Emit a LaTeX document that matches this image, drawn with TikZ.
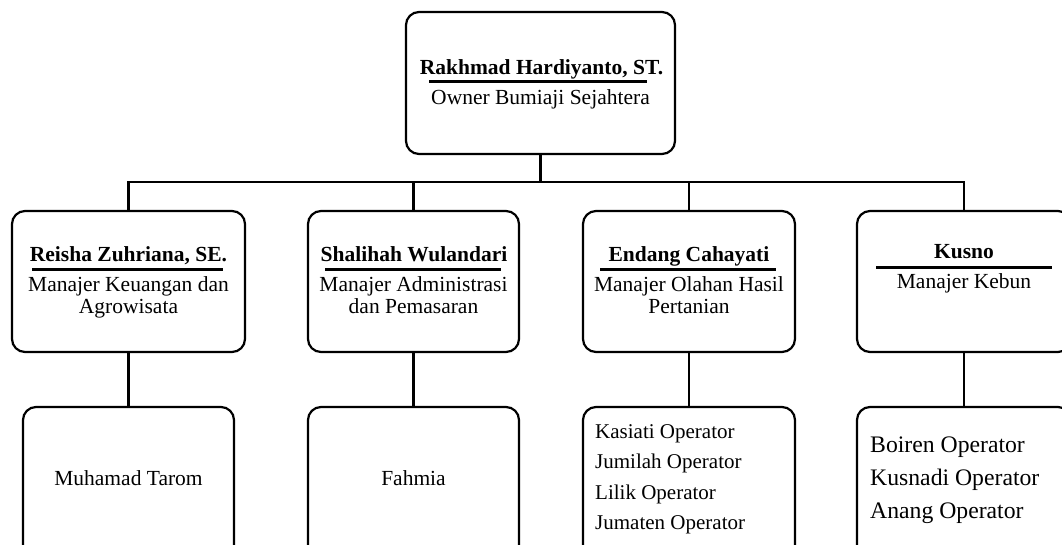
\documentclass[tikz,border=0pt]{standalone}
\usepackage{fontspec}
\setmainfont{Liberation Serif}
\tikzset{
  box/.style={draw,line width=2.2pt,rounded corners=13pt,inner sep=0pt},
  conn/.style={line width=2.2pt},
  uline/.style={line width=3pt},
  txt/.style={inner sep=0pt,anchor=base,font=\fontsize{21.5}{24}\selectfont},
  optxt/.style={inner sep=0pt,anchor=base west,font=\fontsize{21}{24}\selectfont},
  bigtxt/.style={inner sep=0pt,anchor=base west,font=\fontsize{23.7}{27}\selectfont},
  bname/.style={inner sep=0pt,anchor=base,font=\fontsize{21.5}{24}\selectfont\bfseries}}
\begin{document}
\begin{tikzpicture}[x=1pt,y=-1pt]
\useasboundingbox (0,0) rectangle (1062,544);
\clip (0,0) rectangle (1062,544);
\fill[white] (0,0) rectangle (1062,544);
% boxes
\node[box,minimum width=269pt,minimum height=142pt] (top) at (540.5,83) {};
\node[box,minimum width=233pt,minimum height=141pt] (b1) at (128.5,281.5) {};
\node[box,minimum width=211pt,minimum height=141pt] (b2) at (413.5,281.5) {};
\node[box,minimum width=212pt,minimum height=141pt] (b3) at (689,281.5) {};
\node[box,minimum width=214pt,minimum height=141pt] (b4) at (964,281.5) {};
\node[box,minimum width=211pt,minimum height=153pt] (c1) at (128.5,483.5) {};
\node[box,minimum width=211pt,minimum height=153pt] (c2) at (413.5,483.5) {};
\node[box,minimum width=212pt,minimum height=153pt] (c3) at (689,483.5) {};
\node[box,minimum width=214pt,minimum height=153pt] (c4) at (964,483.5) {};
% connectors
\coordinate (bar) at (540.5,182);
\draw[conn] (top.south) -- (bar);
\draw[conn] (bar) -| (b1.north);
\draw[conn] (bar) -| (b2.north);
\draw[conn] (bar) -| (b3.north);
\draw[conn] (bar) -| (b4.north);
\draw[conn] (b1.south) -- (c1.north);
\draw[conn] (b2.south) -- (c2.north);
\draw[conn] (b3.south) -- (c3.north);
\draw[conn] (b4.south) -- (c4.north);
% top text
\node[bname] (tn) at (541.5,74) {Rakhmad Hardiyanto, ST.};
\draw[uline] (429,81) -- (647,81);
\node[txt] (tr) at (540.5,104) {Owner Bumiaji Sejahtera};
% row 2 text
\node[bname] (n1) at (128.5,261) {Reisha Zuhriana, SE.};
\draw[uline] (32,269) -- (223,269);
\node[txt] (r1a) at (128.5,291) {Manajer Keuangan dan};
\node[txt] (r1b) at (128.5,313) {Agrowisata};
\node[bname] (n2) at (414,261) {Shalihah Wulandari};
\draw[uline] (325,269) -- (501,269);
\node[txt] (r2a) at (413.5,291) {Manajer Administrasi};
\node[txt] (r2b) at (413.5,313) {dan Pemasaran};
\node[bname] (n3) at (689,261) {Endang Cahayati};
\draw[uline] (600,269) -- (776,269);
\node[txt] (r3a) at (689,291) {Manajer Olahan Hasil};
\node[txt] (r3b) at (689,313) {Pertanian};
\node[bname] (n4) at (964,258) {Kusno};
\draw[uline] (876,267) -- (1052,267);
\node[txt] (r4) at (964,288) {Manajer Kebun};
% row 3 text
\node[txt] (s1) at (128.5,485) {Muhamad Tarom};
\node[txt] (s2) at (413.5,485) {Fahmia};
\node[optxt] (s3a) at (595,438) {Kasiati Operator};
\node[optxt] (s3b) at (595,468) {Jumilah Operator};
\node[optxt] (s3c) at (595,499) {Lilik Operator};
\node[optxt] (s3d) at (595,529) {Jumaten Operator};
\node[bigtxt] (s4a) at (870,452) {Boiren Operator};
\node[bigtxt] (s4b) at (870,485) {Kusnadi Operator};
\node[bigtxt] (s4c) at (870,518) {Anang Operator};
\end{tikzpicture}
\end{document}
